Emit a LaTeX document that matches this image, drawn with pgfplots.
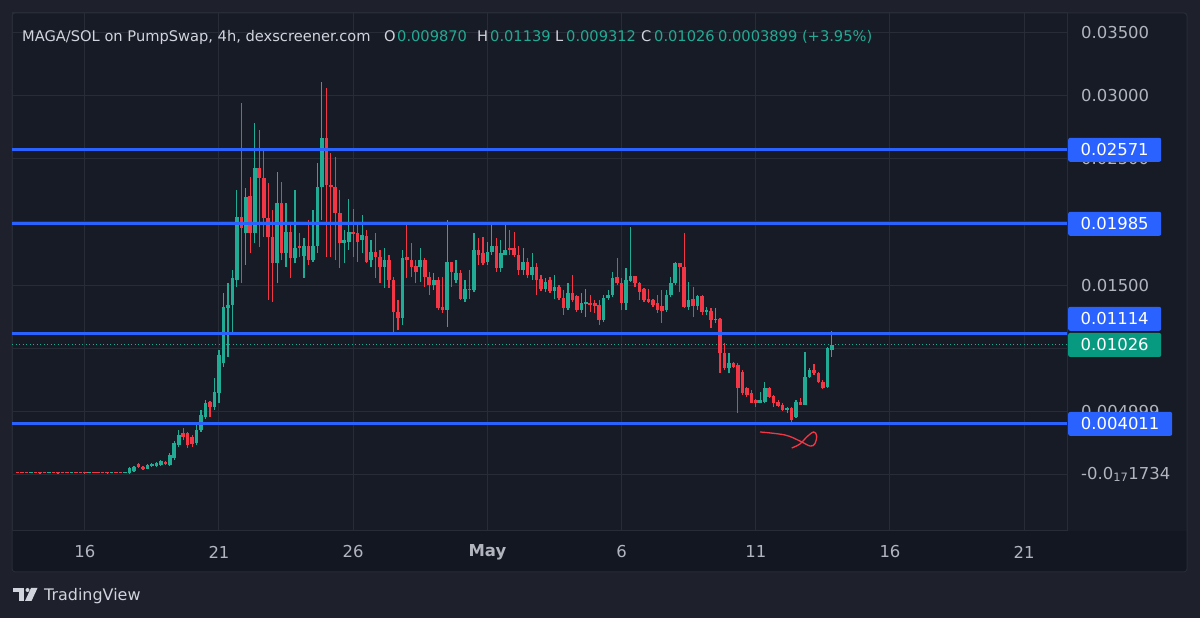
\documentclass[border=0pt]{standalone}
\usepackage{pgfplots}
\pgfplotsset{compat=1.18}
\usepackage{pgfplotstable}
\usepackage{fontspec}
\setmainfont{DejaVu Sans}
\definecolor{bgout}{RGB}{30,33,43}
\definecolor{panel}{RGB}{23,27,37}
\definecolor{band}{RGB}{19,23,34}
\definecolor{gridc}{RGB}{40,44,55}
\definecolor{cgreen}{RGB}{34,171,148}
\definecolor{cred}{RGB}{242,54,69}
\definecolor{cblue}{RGB}{41,98,255}
\definecolor{boxgreen}{RGB}{8,153,129}
\definecolor{tlabel}{RGB}{178,181,190}
\definecolor{ttitle}{RGB}{209,212,220}

% 4h candles, x = candle index (index 21 = 21 Apr 00:00), prices in thousandths of SOL
\pgfplotstableread{
i o h l c
-21 0.11 0.17 0.10 0.15
-17 0.11 0.18 0.10 0.16
-12 0.11 0.17 0.09 0.15
-8 0.11 0.18 0.10 0.16
-3 0.11 0.17 0.10 0.15
0 0.12 0.20 0.10 0.17
1 0.12 0.59 0.04 0.52
2 0.28 0.67 0.20 0.59
5 0.44 0.83 0.40 0.75
6 0.67 0.91 0.63 0.83
7 0.67 0.99 0.63 0.91
8 0.75 1.15 0.71 1.07
10 0.75 1.70 0.67 1.54
11 1.31 2.65 1.15 2.49
12 2.34 3.52 2.18 3.13
16 2.49 3.92 2.34 3.52
17 3.52 5.11 3.37 4.71
18 4.55 5.90 4.39 5.66
20 5.35 7.64 5.11 6.53
21 6.45 9.86 5.66 9.46
22 8.83 14.37 8.51 13.26
23 13.18 15.16 9.30 13.42
24 13.42 16.19 11.20 15.56
25 15.40 22.53 14.85 20.39
27 19.12 22.69 16.59 21.97
29 19.12 27.85 18.33 24.27
34 16.75 23.95 15.16 21.50
36 17.54 21.50 16.43 19.20
38 17.14 22.53 16.75 17.93
40 17.30 18.73 15.56 18.09
42 16.98 20.94 16.83 18.09
43 18.09 24.67 17.54 22.76
44 22.76 31.08 20.15 26.64
49 18.33 19.36 16.75 18.57
50 18.41 21.81 17.78 19.20
53 18.57 20.55 17.54 18.96
55 16.98 18.57 16.43 17.62
58 16.43 17.93 14.77 16.98
62 12.39 17.78 11.84 17.14
66 16.43 17.93 15.24 16.98
69 15.00 15.96 14.61 15.40
72 13.03 20.15 11.68 16.83
74 15.40 16.98 15.16 15.96
76 13.90 15.40 13.66 14.69
78 14.61 19.12 14.45 17.78
81 16.83 18.41 16.59 17.62
82 17.62 19.76 17.38 18.09
84 16.35 18.57 16.03 17.54
85 17.38 19.76 17.38 17.78
89 16.19 17.93 15.80 16.83
91 15.80 17.54 15.40 16.43
94 14.69 15.56 14.45 15.24
96 14.53 15.80 13.90 14.85
99 13.18 15.16 13.03 14.37
102 13.03 14.37 12.79 13.58
103 13.50 14.69 12.47 13.66
107 12.23 14.21 12.08 13.98
108 13.98 14.61 13.82 14.21
109 14.21 16.03 14.05 15.56
112 13.58 16.35 13.03 15.40
113 15.32 19.60 15.24 15.72
121 13.03 14.61 12.87 14.21
122 14.21 15.64 14.05 15.16
123 15.16 16.83 15.00 16.75
126 13.26 15.24 13.03 13.82
128 13.34 14.21 13.03 14.13
130 12.87 13.26 12.63 13.03
132 12.23 13.18 12.00 12.31
135 8.43 9.62 8.04 8.83
142 5.66 6.53 5.66 5.90
143 5.74 7.32 5.66 6.85
148 5.11 5.35 4.87 5.27
150 4.55 5.90 4.47 5.74
152 5.50 9.70 5.50 7.72
153 7.72 8.43 7.64 8.27
157 6.93 10.10 6.85 10.02
158 9.870 11.39 9.312 10.26
}\greencandles

\pgfplotstableread{
i o h l c
-24 0.16 0.18 0.10 0.12
-23 0.15 0.17 0.10 0.11
-22 0.16 0.18 0.11 0.12
-20 0.15 0.17 0.09 0.11
-19 0.15 0.16 0.10 0.11
-18 0.16 0.18 0.11 0.12
-16 0.15 0.17 0.10 0.11
-15 0.15 0.16 0.09 0.11
-14 0.16 0.18 0.10 0.12
-13 0.15 0.17 0.11 0.11
-11 0.16 0.17 0.10 0.12
-10 0.15 0.18 0.10 0.11
-9 0.15 0.16 0.09 0.11
-7 0.16 0.17 0.11 0.12
-6 0.15 0.17 0.10 0.11
-5 0.16 0.18 0.10 0.12
-4 0.15 0.16 0.10 0.11
-2 0.16 0.18 0.11 0.12
-1 0.15 0.17 0.10 0.11
3 0.83 0.91 0.55 0.59
4 0.59 0.67 0.36 0.44
9 0.99 1.07 0.79 0.83
13 3.29 3.68 2.73 2.97
14 3.29 3.37 2.10 2.34
15 2.97 3.13 2.18 2.42
19 5.74 5.82 4.55 5.35
26 20.39 29.41 15.16 19.52
28 22.05 23.56 17.54 19.12
30 24.27 27.29 18.01 23.48
31 23.48 25.71 18.81 20.31
32 20.31 23.08 13.82 18.81
33 18.81 20.94 13.66 16.75
35 21.50 23.16 16.98 17.54
37 19.20 19.91 15.56 17.14
39 18.09 19.12 17.22 17.93
41 18.09 20.15 16.59 16.98
45 26.64 30.60 17.22 22.92
46 22.92 25.47 17.22 22.76
47 22.76 25.15 16.98 20.71
48 20.71 22.53 16.35 18.33
51 19.20 21.02 17.22 19.04
52 19.12 19.91 16.83 18.41
54 18.88 19.36 16.75 16.83
56 17.62 19.12 15.56 17.22
57 17.22 17.78 15.16 16.43
59 16.98 17.38 14.77 15.40
60 15.40 15.64 11.05 12.87
61 12.87 13.82 11.44 12.39
63 17.22 19.91 15.56 16.98
64 16.98 18.33 15.64 16.43
65 16.51 16.98 15.16 16.03
67 16.98 17.14 14.85 15.64
68 15.64 16.03 14.21 15.00
70 15.40 15.64 13.03 13.18
71 13.26 15.64 12.79 13.03
73 16.83 16.83 14.85 16.03
75 15.96 16.19 13.82 13.90
77 14.69 16.19 13.90 14.61
79 17.78 18.73 16.59 17.38
80 17.54 18.81 16.59 16.75
83 18.09 18.73 16.03 16.35
86 17.93 19.36 17.38 17.78
87 17.93 19.20 17.22 17.38
88 17.38 18.09 15.80 16.19
90 16.83 17.14 15.56 15.80
92 16.43 16.75 14.21 15.40
93 15.48 15.80 14.53 14.69
95 15.40 15.64 14.37 14.53
97 14.85 15.00 13.82 13.98
98 13.98 14.61 12.63 13.18
100 14.37 15.80 13.66 13.82
101 14.13 14.21 12.87 13.03
104 13.58 14.21 12.87 13.42
105 13.58 13.82 12.79 13.34
106 13.42 13.82 11.84 12.23
110 15.64 17.14 15.00 15.16
111 15.16 15.56 13.03 13.58
114 15.72 15.72 14.85 15.16
115 15.16 15.24 13.82 14.45
116 14.69 14.77 13.66 13.82
117 13.90 14.69 13.58 13.66
118 13.82 13.90 13.26 13.42
119 13.58 14.21 12.79 13.03
120 13.34 14.61 12.00 12.95
124 16.75 16.75 14.45 16.43
125 16.43 19.12 13.18 13.26
127 13.90 14.85 12.47 13.34
129 14.13 14.21 12.63 12.87
131 12.95 13.18 11.60 12.23
133 12.31 12.39 8.04 9.62
134 9.62 10.41 8.27 8.43
136 8.83 8.91 8.43 8.51
137 8.67 8.83 4.87 6.85
138 8.12 8.27 6.30 6.45
139 6.85 6.93 6.14 6.30
140 6.45 6.69 5.66 5.66
141 5.90 5.98 5.35 5.66
144 6.85 6.93 6.06 6.14
145 6.22 6.30 5.35 5.66
146 5.74 5.90 5.35 5.42
147 5.50 5.66 5.03 5.11
149 5.27 5.35 4.16 4.32
151 5.74 6.06 5.50 5.50
154 8.27 8.75 7.88 8.04
155 8.04 8.12 7.25 7.32
156 7.32 7.48 6.77 6.85
}\redcandles

\begin{document}
\begin{tikzpicture}
\begin{scope}[x=1bp,y=1bp]
\useasboundingbox (0,0) rectangle (1200,618);
\fill[bgout] (0,0) rectangle (1200,618);
\fill[panel, rounded corners=3bp] (12,46) rectangle (1187,605);
\fill[band] (12,46) rectangle (1187,87);
\draw[gridc, line width=1bp, rounded corners=3bp] (12,46) rectangle (1187,605);
\end{scope}

\begin{axis}[
  at={(12bp,87bp)}, anchor=south west,
  scale only axis, width=1055bp, height=518bp,
  xmin=-25.27, xmax=210.57, ymin=-4.47, ymax=36.54,
  axis line style={draw=gridc, line width=1bp},
  xtick={-9,21,51,81,111,141,171,201},
  xticklabels={16,21,26,\textbf{May},6,11,16,21},
  ytick={0,4.999,10,15,20,25,30,35},
  yticklabels={-0.0\textsubscript{17}1734,0.004999,0.01000,0.01500,0.02000,0.02500,0.03000,0.03500},
  yticklabel pos=right,
  xtick pos=bottom,
  major tick length=0pt,
  grid=major,
  major grid style={draw=gridc, line width=1bp},
  tick label style={font=\fontsize{16.5}{19}\selectfont, text=tlabel, inner sep=0pt},
  xticklabel style={anchor=center, yshift=-21bp},
  yticklabel style={anchor=west, xshift=14bp},
]
% wicks
\addplot[draw=none, mark=none, forget plot,
  error bars/.cd, y dir=plus, y explicit, error mark=none,
  error bar style={draw=cgreen, line width=1.2bp}]
  table[x=i, y=l, y error plus expr={\thisrow{h}-\thisrow{l}}] {\greencandles};
\addplot[draw=none, mark=none, forget plot,
  error bars/.cd, y dir=plus, y explicit, error mark=none,
  error bar style={draw=cred, line width=1.2bp}]
  table[x=i, y=l, y error plus expr={\thisrow{h}-\thisrow{l}}] {\redcandles};
% bodies
\addplot[draw=none, mark=none, forget plot,
  error bars/.cd, y dir=plus, y explicit, error mark=none,
  error bar style={draw=cgreen, line width=3.6bp}]
  table[x=i, y expr={min(\thisrow{o},\thisrow{c})}, y error plus expr={max(abs(\thisrow{c}-\thisrow{o}),0.08)}] {\greencandles};
\addplot[draw=none, mark=none, forget plot,
  error bars/.cd, y dir=plus, y explicit, error mark=none,
  error bar style={draw=cred, line width=3.6bp}]
  table[x=i, y expr={min(\thisrow{o},\thisrow{c})}, y error plus expr={max(abs(\thisrow{c}-\thisrow{o}),0.08)}] {\redcandles};
% current price
\addplot[cgreen, line width=1bp, dash pattern=on 1bp off 2.5bp, forget plot] coordinates {(-25.27,10.26) (210.57,10.26)};
% horizontal levels
\addplot[cblue, line width=2.9bp, forget plot] coordinates {(-25.27,25.71) (210.57,25.71)};
\addplot[cblue, line width=2.9bp, forget plot] coordinates {(-25.27,19.85) (210.57,19.85)};
\addplot[cblue, line width=2.9bp, forget plot] coordinates {(-25.27,11.14) (210.57,11.14)};
\addplot[cblue, line width=2.9bp, forget plot] coordinates {(-25.27,4.011) (210.57,4.011)};
% hand drawn mark
\addplot[cred, line width=1.3bp, smooth, tension=0.6, forget plot] coordinates {
 (141.94,3.37) (147.53,3.13) (150.88,2.65) (153.12,2.26) (154.17,2.42) (154.61,3.05) (153.94,3.37) (152.38,2.97) (150.88,2.42) (149.03,2.10)};
\coordinate (b1) at (axis cs:210.57,25.71);
\coordinate (b2) at (axis cs:210.57,19.85);
\coordinate (b3) at (axis cs:210.57,11.14);
\coordinate (b4) at (axis cs:210.57,10.26);
\coordinate (b5) at (axis cs:210.57,4.011);
\end{axis}

\tikzset{pbox/.style={anchor=west, inner sep=0pt, rounded corners=2bp, minimum height=24bp, text=white, font=\fontsize{16.5}{19}\selectfont}}
\node[pbox, fill=cblue, minimum width=93bp] at ([xshift=1bp]b1) {0.02571};
\node[pbox, fill=cblue, minimum width=93bp] at ([xshift=1bp]b2) {0.01985};
\node[pbox, fill=cblue, minimum width=93bp] at ([xshift=1bp,yshift=15bp]b3) {0.01114};
\node[pbox, fill=boxgreen, minimum width=93bp] at ([xshift=1bp]b4) {0.01026};
\node[pbox, fill=cblue, minimum width=104bp] at ([xshift=1bp]b5) {0.004011};

\begin{scope}[x=1bp,y=1bp]
\tikzset{tt/.style={anchor=base west, inner sep=0pt, font=\fontsize{14.7}{17}\selectfont}}
\node[tt, text=ttitle] at (22,576.5) {MAGA/SOL on PumpSwap, 4h, dexscreener.com};
\node[tt, text=ttitle] at (384,576.5) {O};
\node[tt, text=cgreen] at (397,576.5) {0.009870};
\node[tt, text=ttitle] at (477,576.5) {H};
\node[tt, text=cgreen] at (490,576.5) {0.01139};
\node[tt, text=ttitle] at (555,576.5) {L};
\node[tt, text=cgreen] at (566,576.5) {0.009312};
\node[tt, text=ttitle] at (641,576.5) {C};
\node[tt, text=cgreen] at (654,576.5) {0.01026};
\node[tt, text=cgreen] at (718,576.5) {0.0003899 (+3.95\%)};
% TradingView logo
\fill[ttitle] (13,26) rectangle (24,30);
\fill[ttitle] (18.5,17) rectangle (24,30);
\fill[ttitle] (27.5,28) circle (2bp);
\fill[ttitle] (31,30) -- (37.5,30) -- (31.5,17) -- (25,17) -- cycle;
\node[anchor=base west, inner sep=0pt, text=ttitle, font=\fontsize{16}{19}\selectfont] at (44,17) {TradingView};
\end{scope}
\end{tikzpicture}
\end{document}
